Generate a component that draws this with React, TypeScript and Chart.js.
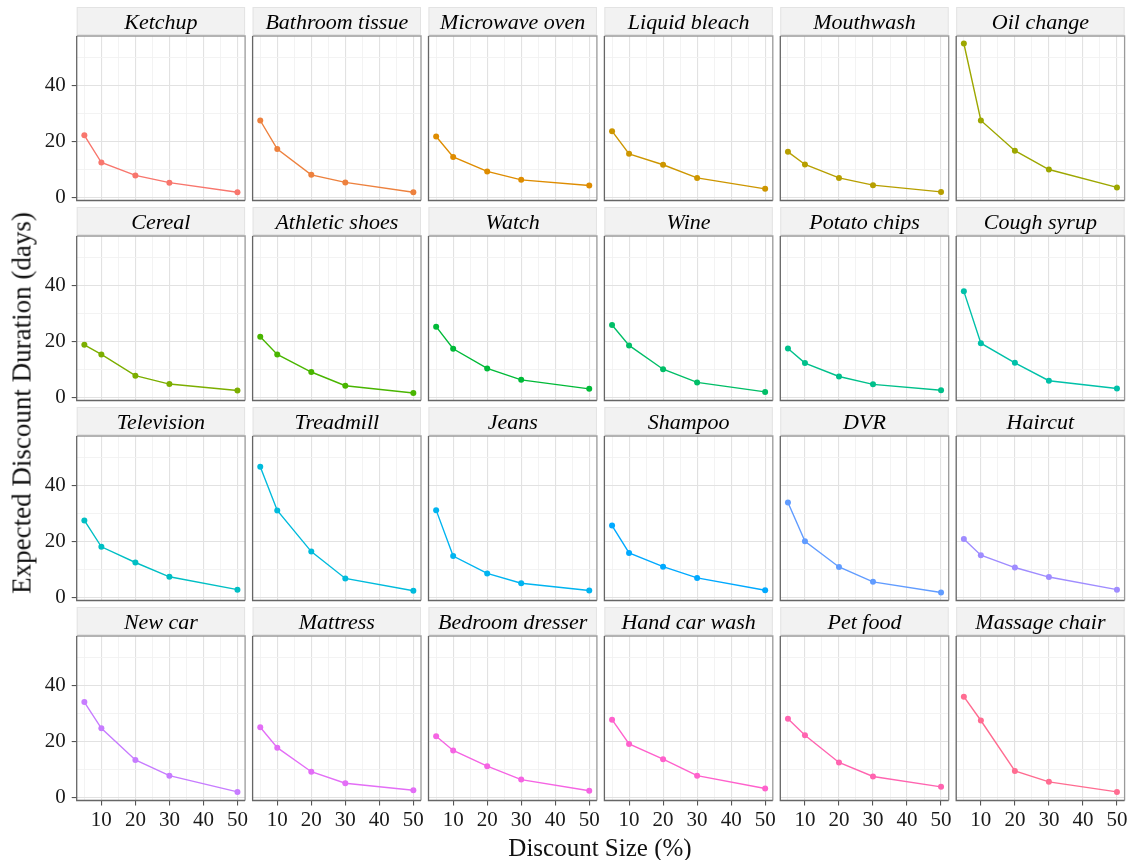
import React, { useEffect, useRef } from 'react';
import { Chart, registerables } from 'chart.js';

Chart.register(...registerables);

// ---------------- data ----------------
const discountSizes = [5, 10, 20, 30, 50];

const productNames = [
  'Ketchup', 'Bathroom tissue', 'Microwave oven', 'Liquid bleach', 'Mouthwash', 'Oil change',
  'Cereal', 'Athletic shoes', 'Watch', 'Wine', 'Potato chips', 'Cough syrup',
  'Television', 'Treadmill', 'Jeans', 'Shampoo', 'DVR', 'Haircut',
  'New car', 'Mattress', 'Bedroom dresser', 'Hand car wash', 'Pet food', 'Massage chair',
];

const ketchup = [22.3, 12.6, 8.0, 5.4, 2.0];
const bathroomTissue = [27.6, 17.4, 8.2, 5.5, 2.0];
const microwaveOven = [21.9, 14.6, 9.4, 6.4, 4.4];
const liquidBleach = [23.8, 15.7, 11.8, 7.1, 3.2];
const mouthwash = [16.4, 11.9, 7.1, 4.5, 2.1];
const oilChange = [55.1, 27.6, 16.8, 10.1, 3.7];
const cereal = [18.9, 15.5, 7.9, 4.9, 2.6];
const athleticShoes = [21.8, 15.5, 9.2, 4.3, 1.7];
const watch = [25.4, 17.5, 10.5, 6.4, 3.2];
const wine = [26.0, 18.7, 10.2, 5.5, 2.1];
const potatoChips = [17.6, 12.4, 7.6, 4.8, 2.7];
const coughSyrup = [38.0, 19.5, 12.5, 6.1, 3.3];
const television = [27.6, 18.2, 12.6, 7.5, 2.9];
const treadmill = [46.8, 31.2, 16.5, 6.9, 2.5];
const jeans = [31.3, 14.9, 8.7, 5.2, 2.6];
const shampoo = [25.8, 16.0, 11.1, 7.1, 2.7];
const dvr = [34.0, 20.2, 11.0, 5.7, 1.9];
const haircut = [21.0, 15.2, 10.8, 7.4, 2.9];
const newCar = [34.2, 24.8, 13.5, 7.9, 2.1];
const mattress = [25.2, 17.9, 9.3, 5.2, 2.7];
const bedroomDresser = [22.0, 16.9, 11.3, 6.5, 2.5];
const handCarWash = [27.9, 19.2, 13.8, 7.9, 3.3];
const petFood = [28.2, 22.3, 12.6, 7.6, 3.9];
const massageChair = [36.1, 27.6, 9.6, 5.7, 2.1];

const seriesValues = [
  ketchup, bathroomTissue, microwaveOven, liquidBleach, mouthwash, oilChange,
  cereal, athleticShoes, watch, wine, potatoChips, coughSyrup,
  television, treadmill, jeans, shampoo, dvr, haircut,
  newCar, mattress, bedroomDresser, handCarWash, petFood, massageChair,
];

const xMajorTicks = [10, 20, 30, 40, 50];
const xMinorTicks = [5, 15, 25, 35, 45];
const yMajorTicks = [0, 20, 40];
const yMinorTicks = [10, 30, 50];

const xTitle = 'Discount Size (%)';
const yTitle = 'Expected Discount Duration (days)';

// ---------------- styles ----------------
const FONT = "'Liberation Serif', 'DejaVu Serif', serif";

// ggplot2 default hue palette (HCL, c=100, l=65)
function hclColor(h: number, c: number, l: number): string {
  const hr = (h * Math.PI) / 180;
  const U = c * Math.cos(hr);
  const V = c * Math.sin(hr);
  const Xn = 95.047, Yn = 100.0, Zn = 108.883;
  const Y = l > 7.999592 ? Yn * Math.pow((l + 16) / 116, 3) : (Yn * l) / 903.3;
  const d = Xn + 15 * Yn + 3 * Zn;
  const un = (4 * Xn) / d;
  const vn = (9 * Yn) / d;
  const u = U / (13 * l) + un;
  const v = V / (13 * l) + vn;
  const X = (9 * Y * u) / (4 * v);
  const Z = -X / 3 - 5 * Y + (3 * Y) / v;
  const lin = [
    (3.240479 * X - 1.53715 * Y - 0.498535 * Z) / Yn,
    (-0.969256 * X + 1.875992 * Y + 0.041556 * Z) / Yn,
    (0.055648 * X - 0.204043 * Y + 1.057311 * Z) / Yn,
  ];
  const out = lin.map((x) => {
    let g = x > 0.00304 ? 1.055 * Math.pow(x, 1 / 2.4) - 0.055 : 12.92 * x;
    g = Math.max(0, Math.min(1, g));
    return Math.round(g * 255);
  });
  return `rgb(${out[0]},${out[1]},${out[2]})`;
}

const NCOLS = 6;
const COL_LEFT0 = 76.7;
const COL_STEP = 175.9;
const PLOT_W = 168.4;
const ROW_TOP0 = 7;
const ROW_STEP = 200;
const STRIP_H = 29;
const PLOT_H = 164.5;
const Y_AXIS_SPACE = 72;
const X_AXIS_SPACE = 34;

const X_MIN = 2.75, X_MAX = 52.25;
const Y_MIN = -0.97, Y_MAX = 57.77;

const decoPlugin = {
  id: 'panelDeco',
  beforeDraw(chart: any) {
    const { ctx, chartArea: a } = chart;
    const tb = chart.titleBlock;
    if (!tb) return;
    ctx.save();
    ctx.fillStyle = '#f2f2f2';
    ctx.fillRect(a.left, tb.top, a.right - a.left, tb.height - 1);
    ctx.strokeStyle = '#e3e3e3';
    ctx.lineWidth = 1;
    ctx.strokeRect(a.left + 0.5, tb.top + 0.5, a.right - a.left - 1, tb.height - 2);
    ctx.restore();
  },
  afterDatasetsDraw(chart: any) {
    const { ctx, chartArea: a } = chart;
    ctx.save();
    ctx.lineWidth = 1.3;
    ctx.strokeStyle = '#9a9a9a';
    ctx.beginPath();
    ctx.moveTo(a.left, a.top);
    ctx.lineTo(a.right, a.top);
    ctx.lineTo(a.right, a.bottom);
    ctx.stroke();
    ctx.strokeStyle = '#666666';
    ctx.beginPath();
    ctx.moveTo(a.left, a.top);
    ctx.lineTo(a.left, a.bottom);
    ctx.lineTo(a.right, a.bottom);
    ctx.stroke();
    ctx.restore();
  },
};

function Panel({ index }: { index: number }) {
  const ref = useRef<HTMLCanvasElement | null>(null);
  const col = index % NCOLS;
  const row = Math.floor(index / NCOLS);
  const isLeft = col === 0;
  const isBottom = row === 3;
  const colLeft = COL_LEFT0 + COL_STEP * col;
  const canvasLeft = Math.floor(colLeft - Y_AXIS_SPACE);
  const yAxisW = colLeft - canvasLeft;
  const canvasTop = ROW_TOP0 + ROW_STEP * row;
  const cw = Math.ceil(yAxisW + PLOT_W + 4);
  const ch = Math.ceil(STRIP_H + PLOT_H + X_AXIS_SPACE);
  const padRight = cw - yAxisW - PLOT_W;
  const xAxisH = ch - STRIP_H - PLOT_H;

  useEffect(() => {
    if (!ref.current) return;
    const color = hclColor(15 + 15 * index, 100, 65);
    const values = seriesValues[index];
    const chart = new Chart(ref.current, {
      type: 'line',
      data: {
        datasets: [
          {
            data: discountSizes.map((x, i) => ({ x, y: values[i] })),
            borderColor: color,
            backgroundColor: color,
            borderWidth: 1.4,
            pointRadius: 3,
            pointBorderWidth: 0,
            pointBackgroundColor: color,
            tension: 0,
          },
        ],
      },
      options: {
        animation: false,
        responsive: false,
        devicePixelRatio: 1,
        events: [],
        layout: { padding: { left: 0, right: padRight, top: 0, bottom: 0 } },
        plugins: {
          legend: { display: false },
          tooltip: { enabled: false },
          title: {
            display: true,
            text: productNames[index],
            fullSize: false,
            color: '#000000',
            font: { family: FONT, size: 22, style: 'italic', weight: 'normal', lineHeight: 1 },
            padding: { top: 5, bottom: 2 },
          },
        },
        scales: {
          x: {
            type: 'linear',
            min: X_MIN,
            max: X_MAX,
            afterBuildTicks: (scale: any) => {
              scale.ticks = [...xMinorTicks, ...xMajorTicks].sort((a, b) => a - b).map((v) => ({ value: v }));
            },
            afterFit: (scale: any) => {
              scale.height = xAxisH;
              scale.paddingLeft = 0;
              scale.paddingRight = 0;
            },
            border: { display: false },
            grid: {
              drawTicks: isBottom,
              tickLength: 5,
              tickColor: (ctx: any) => (ctx.tick && xMajorTicks.includes(ctx.tick.value) ? '#555555' : 'rgba(0,0,0,0)'),
              color: (ctx: any) => (ctx.tick && xMajorTicks.includes(ctx.tick.value) ? '#e2e2e2' : '#f2f2f2'),
              lineWidth: (ctx: any) => (ctx.tick && xMajorTicks.includes(ctx.tick.value) ? 1.1 : 0.9),
            },
            ticks: {
              display: isBottom,
              autoSkip: false,
              maxRotation: 0,
              padding: 2,
              color: '#1a1a1a',
              font: { family: FONT, size: 21 },
              callback: (v: any) => (xMajorTicks.includes(Number(v)) ? String(v) : ''),
            },
          },
          y: {
            type: 'linear',
            min: Y_MIN,
            max: Y_MAX,
            afterBuildTicks: (scale: any) => {
              scale.ticks = [...yMinorTicks, ...yMajorTicks].sort((a, b) => a - b).map((v) => ({ value: v }));
            },
            afterFit: (scale: any) => {
              scale.width = yAxisW;
              scale.paddingTop = 0;
              scale.paddingBottom = 0;
            },
            border: { display: false },
            grid: {
              drawTicks: isLeft,
              tickLength: 5,
              tickColor: (ctx: any) => (ctx.tick && yMajorTicks.includes(ctx.tick.value) ? '#555555' : 'rgba(0,0,0,0)'),
              color: (ctx: any) => (ctx.tick && yMajorTicks.includes(ctx.tick.value) ? '#e2e2e2' : '#f2f2f2'),
              lineWidth: (ctx: any) => (ctx.tick && yMajorTicks.includes(ctx.tick.value) ? 1.1 : 0.9),
            },
            ticks: {
              display: isLeft,
              autoSkip: false,
              padding: 6,
              color: '#1a1a1a',
              font: { family: FONT, size: 21 },
              callback: (v: any) => (yMajorTicks.includes(Number(v)) ? String(v) : ''),
            },
          },
        },
      },
      plugins: [decoPlugin],
    } as any);
    return () => chart.destroy();
  }, [index]);

  return (
    <canvas
      ref={ref}
      width={cw}
      height={ch}
      style={{ position: 'absolute', left: canvasLeft, top: canvasTop, width: cw, height: ch }}
    />
  );
}

export default function App() {
  return (
    <div style={{ position: 'absolute', left: 0, top: 0, width: 1131, height: 860, background: '#ffffff', overflow: 'hidden' }}>
      {productNames.map((_, i) => (
        <Panel key={i} index={i} />
      ))}
      <div
        style={{
          position: 'absolute',
          left: 600,
          top: 848,
          transform: 'translate(-50%, -50%)',
          fontFamily: FONT,
          fontSize: 25,
          color: '#111',
          whiteSpace: 'nowrap',
        }}
      >
        {xTitle}
      </div>
      <div
        style={{
          position: 'absolute',
          left: 22,
          top: 403,
          transform: 'translate(-50%, -50%) rotate(-90deg)',
          fontFamily: FONT,
          fontSize: 27,
          color: '#111',
          whiteSpace: 'nowrap',
        }}
      >
        {yTitle}
      </div>
    </div>
  );
}
